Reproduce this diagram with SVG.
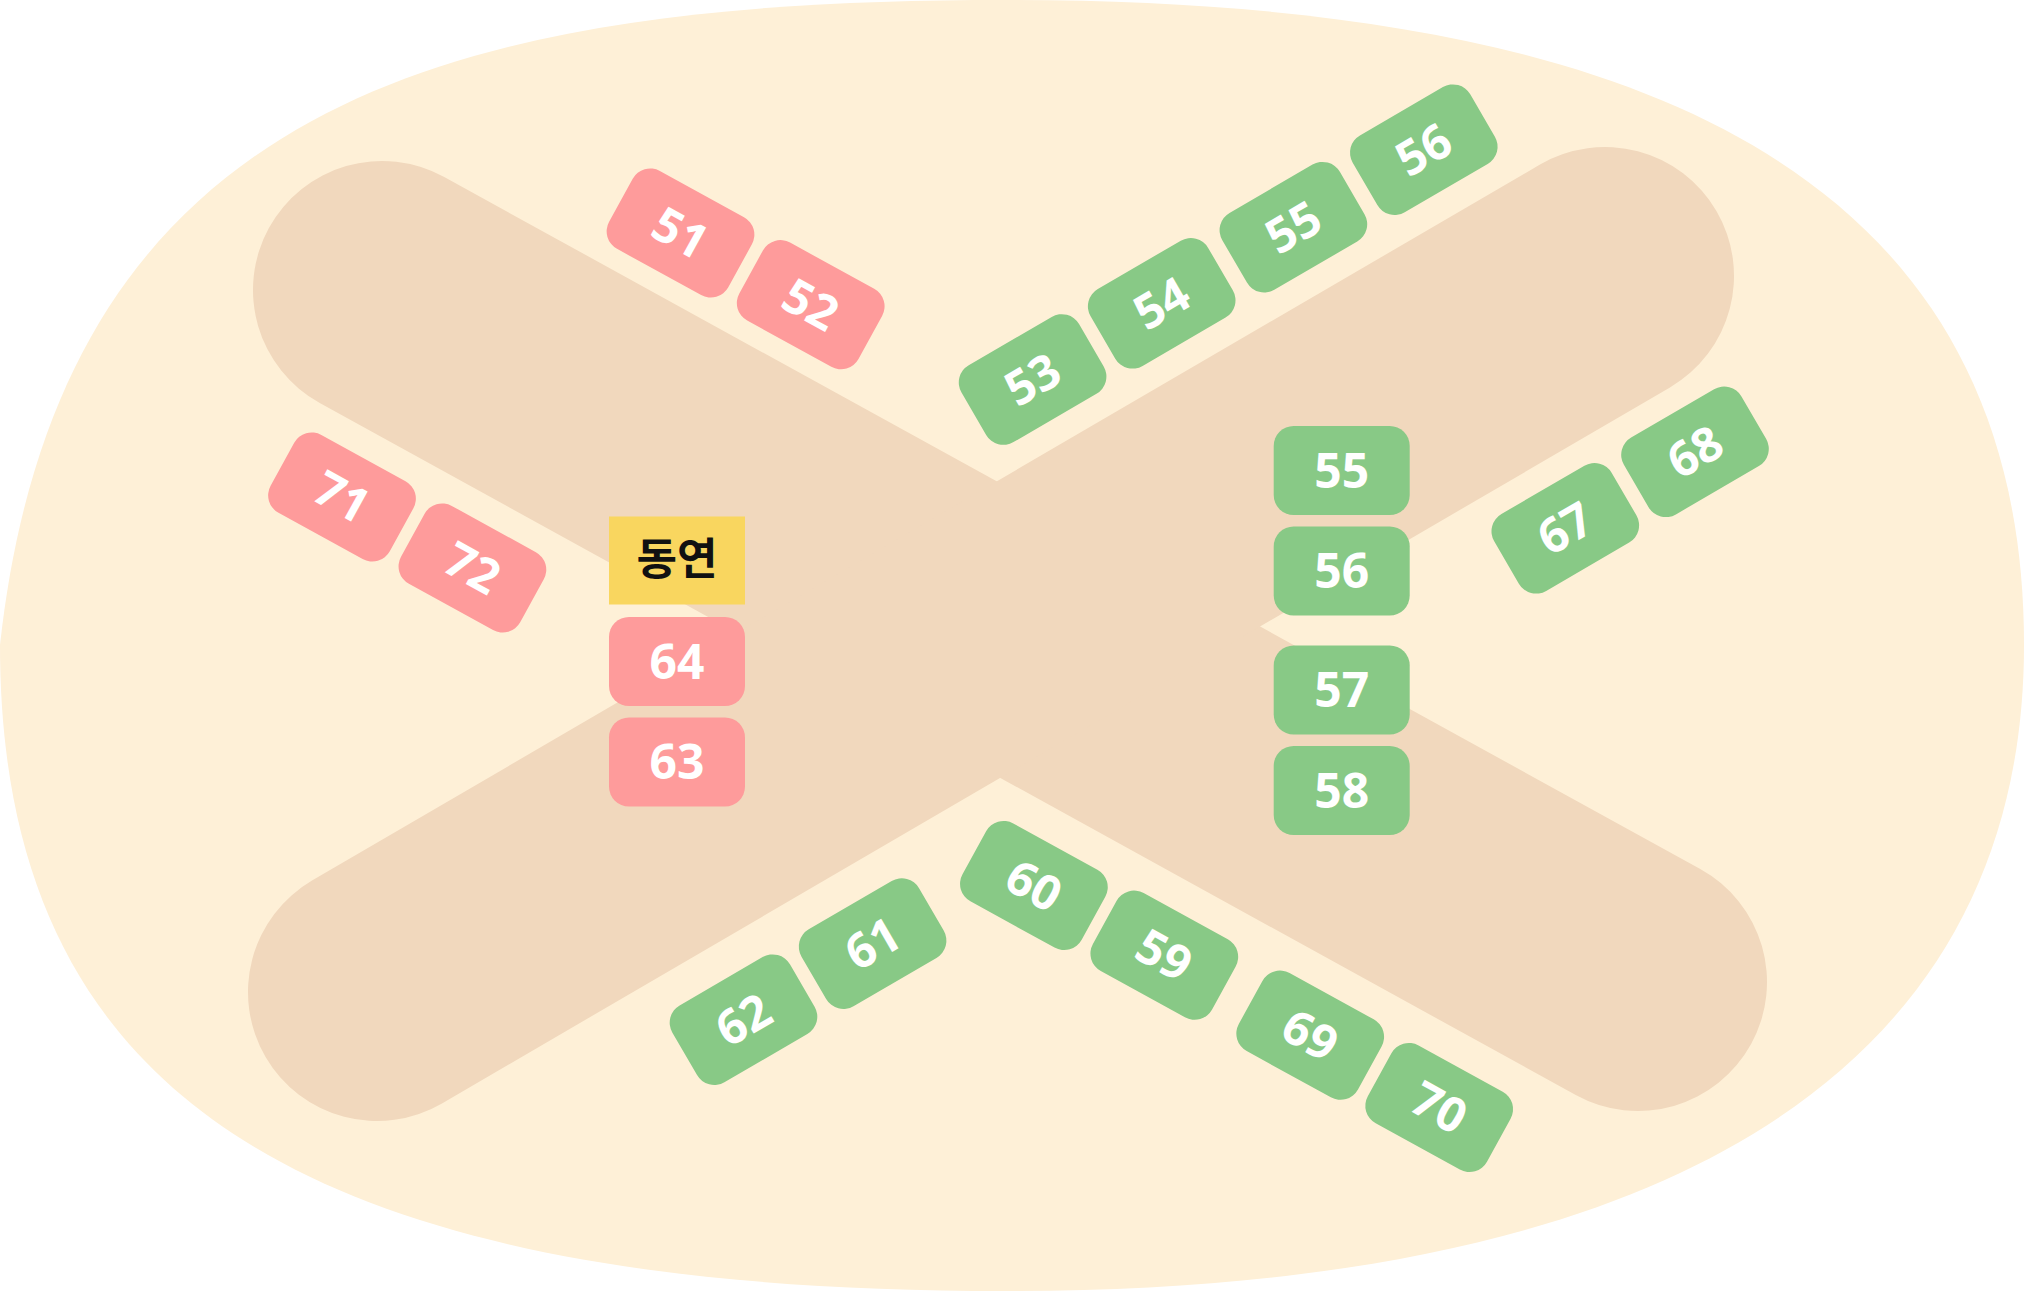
<svg xmlns="http://www.w3.org/2000/svg" width="2024" height="1291" viewBox="0 0 2024 1291">
<style>
.bg{fill:#fef0d7}
.band{stroke:#f1d8bd;stroke-width:258;stroke-linecap:round;fill:none}
.pink{fill:#fe9b9b}
.green{fill:#88c986}
.yellow{fill:#f9d65f}
.num{font-family:"Noto Sans","Liberation Sans",sans-serif;font-size:48px;font-weight:bold;fill:#ffffff;text-anchor:middle}
.title{font-family:"Noto Sans CJK KR","Noto Sans",sans-serif;font-size:44px;font-weight:bold;fill:#111111;text-anchor:middle}
</style>
<defs>
<rect id="box" x="-68" y="-44.5" width="136" height="89" rx="20" ry="20"/>
</defs>
<g id="background">
<path class="bg" d="M0,645 C60,100 450,0 1006,0 C1600,0 2024,150 2024,645 C2024,1050 1700,1291 1006,1291 C302,1291 0,1097 0,645 Z"/>
</g>
<g id="connectors">
<line class="band" x1="382" y1="290" x2="1638" y2="982"/>
<line class="band" x1="1605" y1="276" x2="377" y2="992"/>
</g>
<g id="n51" transform="translate(680.5,233) rotate(28.8)"><use href="#box" class="pink"/><text class="num" x="0" y="17">51</text></g>
<g id="n52" transform="translate(810.7,304.7) rotate(28.8)"><use href="#box" class="pink"/><text class="num" x="0" y="17">52</text></g>
<g id="n71" transform="translate(342,497) rotate(28.8)"><use href="#box" class="pink"/><text class="num" x="0" y="17">71</text></g>
<g id="n72" transform="translate(472.4,568) rotate(28.8)"><use href="#box" class="pink"/><text class="num" x="0" y="17">72</text></g>
<g id="n53" transform="translate(1032.6,379.5) rotate(-30.2)"><use href="#box" class="green"/><text class="num" x="0" y="17">53</text></g>
<g id="n54" transform="translate(1161.7,303.3) rotate(-30.2)"><use href="#box" class="green"/><text class="num" x="0" y="17">54</text></g>
<g id="n55a" transform="translate(1293.4,227.2) rotate(-30.2)"><use href="#box" class="green"/><text class="num" x="0" y="17">55</text></g>
<g id="n56a" transform="translate(1423.8,149.7) rotate(-30.2)"><use href="#box" class="green"/><text class="num" x="0" y="17">56</text></g>
<g id="n67" transform="translate(1565.3,528.3) rotate(-30.2)"><use href="#box" class="green"/><text class="num" x="0" y="17">67</text></g>
<g id="n68" transform="translate(1695,451.8) rotate(-30.2)"><use href="#box" class="green"/><text class="num" x="0" y="17">68</text></g>
<g id="n60" transform="translate(1033.9,885.5) rotate(28.8)"><use href="#box" class="green"/><text class="num" x="0" y="17">60</text></g>
<g id="n59" transform="translate(1164.3,955.2) rotate(28.8)"><use href="#box" class="green"/><text class="num" x="0" y="17">59</text></g>
<g id="n69" transform="translate(1310.2,1035.2) rotate(28.8)"><use href="#box" class="green"/><text class="num" x="0" y="17">69</text></g>
<g id="n70" transform="translate(1439.2,1107.5) rotate(28.8)"><use href="#box" class="green"/><text class="num" x="0" y="17">70</text></g>
<g id="n61" transform="translate(872.6,943.6) rotate(-30.2)"><use href="#box" class="green"/><text class="num" x="0" y="17">61</text></g>
<g id="n62" transform="translate(743.5,1019.7) rotate(-30.2)"><use href="#box" class="green"/><text class="num" x="0" y="17">62</text></g>
<g id="title">
<rect class="yellow" x="609" y="516.5" width="136" height="88"/>
<text class="title" x="677" y="575">동연</text>
</g>
<g id="n64" transform="translate(677,661.5)"><use href="#box" class="pink"/><text class="num" x="0" y="17">64</text></g>
<g id="n63" transform="translate(677,762)"><use href="#box" class="pink"/><text class="num" x="0" y="17">63</text></g>
<g id="n55" transform="translate(1341.7,470.5)"><use href="#box" class="green"/><text class="num" x="0" y="17">55</text></g>
<g id="n56" transform="translate(1341.7,571)"><use href="#box" class="green"/><text class="num" x="0" y="17">56</text></g>
<g id="n57" transform="translate(1341.7,690)"><use href="#box" class="green"/><text class="num" x="0" y="17">57</text></g>
<g id="n58" transform="translate(1341.7,790.5)"><use href="#box" class="green"/><text class="num" x="0" y="17">58</text></g>
</svg>
